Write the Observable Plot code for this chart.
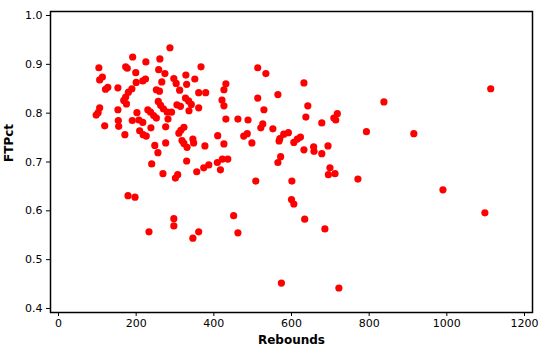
<!DOCTYPE html>
<html>
<head>
<meta charset="utf-8">
<script src="https://cdn.jsdelivr.net/npm/d3@7"></script>
<script src="https://cdn.jsdelivr.net/npm/@observablehq/plot@0.6"></script>
<style>
  html, body { margin: 0; padding: 0; background: #ffffff; }
  #chart svg { display: block; }
</style>
</head>
<body>
<div id="chart"></div>
<script>
const rebounds = [
  287, 191, 225, 261, 104, 173, 177, 199, 258, 274, 367, 328, 351, 113, 106, 224, 217, 200, 266, 297,
  303, 312, 330, 431, 426, 127, 121, 153, 189, 180, 173, 168, 175, 252, 260, 327, 335, 342, 361, 379,
  421, 426, 305, 314, 257, 263, 270, 280, 291, 336, 361, 106, 102, 97, 153, 202, 230, 237, 245, 252,
  190, 207, 217, 154, 155, 119, 238, 276, 209, 218, 226, 171, 310, 315, 323, 318, 323, 331, 346, 348,
  248, 276, 256, 377, 410, 426, 513, 534, 632, 513, 565, 529, 642, 637, 431, 462, 488, 526, 521, 552,
  678, 709, 718, 714, 592, 580, 570, 568, 486, 477, 623, 615, 606, 498, 632, 657, 658, 694, 678, 572,
  565, 422, 436, 409, 417, 699, 695, 712, 771, 508, 601, 600, 606, 451, 634, 686, 462, 330, 240, 374,
  387, 356, 269, 307, 301, 179, 197, 297, 297, 233, 361, 346, 1113, 838, 793, 915, 990, 1098, 574, 722,
  282
];
const ftPct = [
  0.934, 0.915, 0.905, 0.911, 0.893, 0.895, 0.892, 0.883, 0.889, 0.881, 0.895, 0.878, 0.870, 0.874, 0.868, 0.870, 0.866, 0.863, 0.864, 0.871,
  0.861, 0.847, 0.859, 0.860, 0.848, 0.853, 0.849, 0.852, 0.850, 0.843, 0.833, 0.826, 0.819, 0.848, 0.845, 0.831, 0.825, 0.818, 0.842, 0.842,
  0.827, 0.815, 0.817, 0.814, 0.824, 0.816, 0.809, 0.802, 0.802, 0.805, 0.811, 0.811, 0.801, 0.796, 0.807, 0.801, 0.807, 0.802, 0.795, 0.790,
  0.785, 0.786, 0.781, 0.785, 0.773, 0.774, 0.770, 0.772, 0.764, 0.756, 0.753, 0.756, 0.759, 0.765, 0.771, 0.744, 0.738, 0.730, 0.747, 0.739,
  0.734, 0.739, 0.719, 0.733, 0.754, 0.737, 0.893, 0.881, 0.862, 0.831, 0.838, 0.807, 0.815, 0.792, 0.788, 0.788, 0.786, 0.778, 0.770, 0.768,
  0.780, 0.790, 0.799, 0.786, 0.760, 0.757, 0.748, 0.743, 0.758, 0.753, 0.751, 0.747, 0.740, 0.739, 0.725, 0.731, 0.722, 0.733, 0.717, 0.711,
  0.699, 0.706, 0.706, 0.699, 0.684, 0.688, 0.674, 0.676, 0.665, 0.661, 0.661, 0.623, 0.614, 0.590, 0.583, 0.563, 0.555, 0.702, 0.696, 0.688,
  0.694, 0.680, 0.676, 0.674, 0.667, 0.631, 0.628, 0.584, 0.569, 0.557, 0.557, 0.544, 0.850, 0.823, 0.762, 0.758, 0.643, 0.596, 0.452, 0.442,
  0.788
];
const xTicks = [0, 200, 400, 600, 800, 1000, 1200];
const yTicks = [0.4, 0.5, 0.6, 0.7, 0.8, 0.9, 1.0];
const xTitle = "Rebounds";
const yTitle = "FTPct";

const data = rebounds.map((r, i) => ({Rebounds: r, FTPct: ftPct[i]}));

const chart = Plot.plot({
  width: 542,
  height: 351,
  marginLeft: 50,
  marginRight: 10,
  marginTop: 11,
  marginBottom: 39,
  style: {fontFamily: "'DejaVu Sans', Verdana, sans-serif", fontSize: "11px", color: "#000", background: "#fff"},
  x: {domain: [-20.6, 1220.6], ticks: xTicks, tickSize: 4, tickPadding: 3, label: null, tickFormat: d => String(d)},
  y: {domain: [0.3918, 1.0082], ticks: yTicks, tickSize: 4, tickPadding: 4, label: null, tickFormat: d3.format(".1f")},
  marks: [
    Plot.frame({stroke: "#000", strokeWidth: 1.5}),
    Plot.dot(data, {x: "Rebounds", y: "FTPct", r: 3.6, fill: "#ff0000", stroke: "none"}),
    Plot.text([xTitle], {frameAnchor: "bottom", dy: 31, fontWeight: "bold", fontSize: 12, fill: "#000"}),
    Plot.text([yTitle], {frameAnchor: "left", dx: -41, rotate: -90, fontWeight: "bold", fontSize: 12, fill: "#000"})
  ]
});
document.getElementById("chart").appendChild(chart);
</script>
</body>
</html>
